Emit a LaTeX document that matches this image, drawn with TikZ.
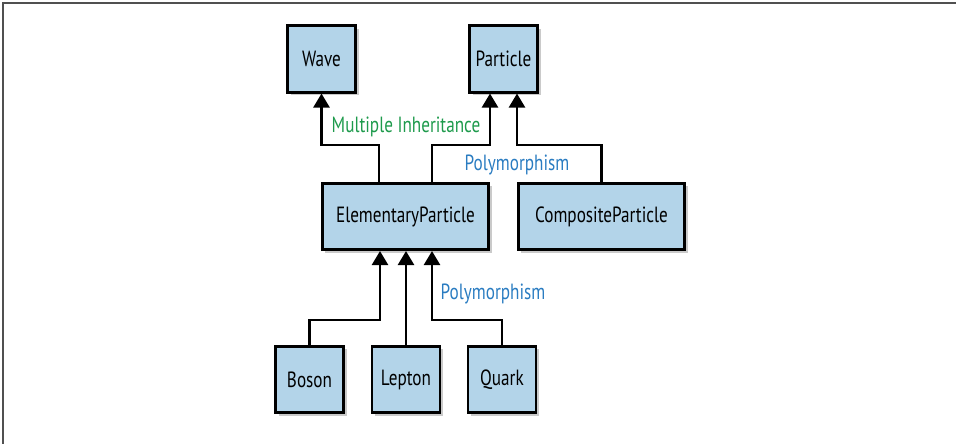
\documentclass[tikz,border=0pt]{standalone}
\usepackage{fontspec}
\setmainfont[FakeStretch=0.78]{PT Sans}
\usetikzlibrary{arrows.meta,shadows}
\definecolor{boxfill}{HTML}{B3D4E9}
\definecolor{lblgreen}{HTML}{1E9A4C}
\definecolor{lblblue}{HTML}{2A7CC1}
\definecolor{framegray}{HTML}{505050}
\begin{document}
\begin{tikzpicture}[x=1pt,y=-1pt,
  cls/.style={draw=black,line width=2.6pt,fill=boxfill,inner sep=0pt,
    font=\fontsize{22}{24}\selectfont,
    drop shadow={shadow xshift=3pt,shadow yshift=-3pt,opacity=0.35,fill=black!60}},
  small/.style={cls,minimum width=68pt,minimum height=66.5pt},
  wide/.style={cls,minimum width=166.5pt,minimum height=66.5pt},
  arr/.style={line width=2.6pt,-{Triangle[width=16pt,length=14pt]}},
  lbl/.style={font=\fontsize{22}{24}\selectfont,inner sep=0pt}]
\useasboundingbox (0,0) rectangle (956,444);
\draw[framegray,line width=1.6pt] (3,444) -- (3,3) -- (956,3);
\node[small] (wave) at (321.5,59) {Wave};
\node[small] (particle) at (503.5,59) {Particle};
\node[wide] (ep) at (405.5,216.5) {ElementaryParticle};
\node[wide] (cp) at (601.5,216.5) {CompositeParticle};
\node[small] (boson) at (309.5,379.5) {Boson};
\node[small] (lepton) at (406,379.5) {Lepton};
\node[small] (quark) at (502,379.5) {Quark};
\coordinate (mh) at (0,145);
\coordinate (ml) at (0,320);
\coordinate (ept1) at ([xshift=-26.5pt]ep.north);
\coordinate (ept2) at ([xshift=26.5pt]ep.north);
\coordinate (pl) at ([xshift=-13.5pt]particle.south);
\coordinate (pr) at ([xshift=13.5pt]particle.south);
\coordinate (epb1) at ([xshift=-25.5pt]ep.south);
\coordinate (epb2) at ([xshift=0.5pt]ep.south);
\coordinate (epb3) at ([xshift=26.5pt]ep.south);
\draw[arr] (ept1) -- (ept1 |- mh) -| (wave.south);
\draw[arr] (ept2) -- (ept2 |- mh) -| (pl);
\draw[arr] (cp.north) -- (cp.north |- mh) -| (pr);
\draw[arr] (boson.north) -- (boson.north |- ml) -| (epb1);
\draw[arr] (lepton.north) -- (epb2);
\draw[arr] (quark.north) -- (quark.north |- ml) -| (epb3);
\node[lbl,text=lblgreen] (mi) at (406,127) {Multiple Inheritance};
\node[lbl,text=lblblue] (poly1) at (517,165) {Polymorphism};
\node[lbl,text=lblblue] (poly2) at (493,294) {Polymorphism};
\end{tikzpicture}
\end{document}
